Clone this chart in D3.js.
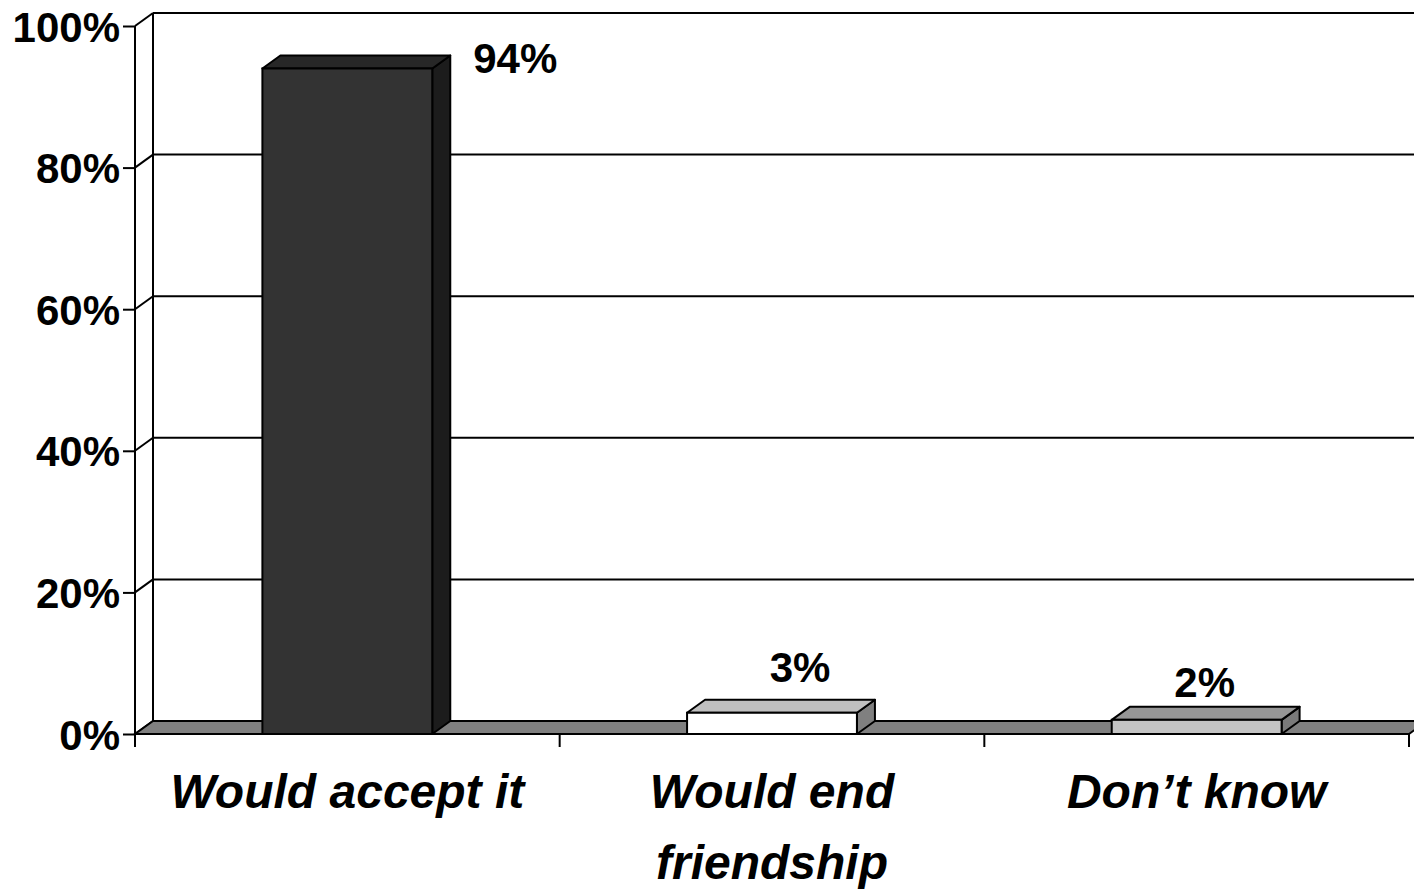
<!DOCTYPE html>
<html>
<head>
<meta charset="utf-8">
<script src="https://cdn.jsdelivr.net/npm/d3@7"></script>
<style>
  html, body { margin: 0; padding: 0; background: #fff; }
  svg { display: block; }
  text { font-family: "Liberation Sans", Arial, sans-serif; font-weight: bold; fill: #000; }
</style>
</head>
<body>
<svg id="chart" width="1414" height="892"></svg>
<script>
// ---- data ----
const categories = ["Would accept it", "Would end friendship", "Don\u2019t know"];
const values = [94, 3, 2];
const valueLabels = ["94%", "3%", "2%"];
const yTicks = [0, 20, 40, 60, 80, 100];
const yTickLabels = ["0%", "20%", "40%", "60%", "80%", "100%"];

// ---- styles ----
const barColors = [
  { front: "#333333", top: "#272727", side: "#1c1c1c" },
  { front: "#ffffff", top: "#c0c0c0", side: "#808080" },
  { front: "#c4c4c4", top: "#969696", side: "#7a7a7a" }
];
const floorColor = "#808080";
const LW = 2;

const svg = d3.select("#chart");
const W = 1414, H = 892;

// geometry
const left = 135, right = 1409;
const yFront0 = 734, yFront100 = 26;
const DX = 18, DY = -13;

const x = d3.scaleBand().domain(categories).range([left, right]).paddingInner(0).paddingOuter(0);
const yF = d3.scaleLinear().domain([0, 100]).range([yFront0, yFront100]);
const yB = v => yF(v) + DY;

const g = svg.append("g");

// back wall gridlines
g.selectAll("line.grid").data(yTicks).enter().append("line")
  .attr("x1", left + DX).attr("x2", W + 20)
  .attr("y1", d => yB(d)).attr("y2", d => yB(d))
  .attr("stroke", "#000").attr("stroke-width", LW);

// left side wall diagonals
g.selectAll("line.diag").data(yTicks).enter().append("line")
  .attr("x1", left).attr("x2", left + DX)
  .attr("y1", d => yF(d)).attr("y2", d => yB(d))
  .attr("stroke", "#000").attr("stroke-width", LW);

// back wall left vertical
g.append("line")
  .attr("x1", left + DX).attr("x2", left + DX)
  .attr("y1", yB(100)).attr("y2", yB(0))
  .attr("stroke", "#000").attr("stroke-width", LW);

// floor
g.append("path")
  .attr("d", `M${left},${yF(0)} L${right},${yF(0)} L${right + DX},${yB(0)} L${left + DX},${yB(0)} Z`)
  .attr("fill", floorColor).attr("stroke", "#000").attr("stroke-width", LW).attr("stroke-linejoin", "miter");

// bars
const bw = x.bandwidth() * 0.4;
const bars = g.selectAll("g.bar").data(categories).enter().append("g");
bars.each(function (c, i) {
  const gb = d3.select(this);
  const x0 = x(c) + (x.bandwidth() - bw) / 2, x1 = x0 + bw;
  const yt = yF(values[i]), yb = yF(0);
  const col = barColors[i];
  // side
  gb.append("path")
    .attr("d", `M${x1},${yb} L${x1 + DX},${yb + DY} L${x1 + DX},${yt + DY} L${x1},${yt} Z`)
    .attr("fill", col.side).attr("stroke", "#000").attr("stroke-width", LW).attr("stroke-linejoin", "round");
  // top
  gb.append("path")
    .attr("d", `M${x0},${yt} L${x0 + DX},${yt + DY} L${x1 + DX},${yt + DY} L${x1},${yt} Z`)
    .attr("fill", col.top).attr("stroke", "#000").attr("stroke-width", LW).attr("stroke-linejoin", "round");
  // front
  gb.append("rect")
    .attr("x", x0).attr("y", yt).attr("width", bw).attr("height", yb - yt)
    .attr("fill", col.front).attr("stroke", "#000").attr("stroke-width", LW);
});

// value labels (Excel-like placement)
const labelPos = (c, i) => {
  const cx = x(c) + x.bandwidth() / 2;
  if (i === 0) return [cx + bw / 2 + DX + 65, yF(values[i]) + 5];
  if (i === 1) return [cx + 28, yF(values[i]) - 31];
  return [cx + 8, yF(values[i]) - 23];
};
g.selectAll("text.val").data(categories).enter().append("text")
  .attr("x", (c, i) => labelPos(c, i)[0])
  .attr("y", (c, i) => labelPos(c, i)[1])
  .attr("text-anchor", "middle")
  .attr("font-size", 42)
  .text((c, i) => valueLabels[i]);

// front y axis
const yAxis = d3.axisLeft(yF).tickValues(yTicks).tickSize(12).tickSizeOuter(0).tickPadding(3)
  .tickFormat((d, i) => yTickLabels[i]);
const ya = g.append("g").attr("transform", `translate(${left},0)`).call(yAxis);
ya.select(".domain").remove();
ya.selectAll("line").attr("stroke", "#000").attr("stroke-width", LW);
ya.selectAll("text").attr("font-size", 42).attr("font-family", "'Liberation Sans', Arial, sans-serif")
  .attr("font-weight", "bold").attr("fill", "#000").attr("dy", "0.36em").attr("x", -15);

g.append("line")
  .attr("x1", left).attr("x2", left)
  .attr("y1", yF(100)).attr("y2", yF(0) + 13)
  .attr("stroke", "#000").attr("stroke-width", LW);

// category ticks
const bounds = categories.map(c => x(c) + x.bandwidth());
g.selectAll("line.xt").data(bounds).enter().append("line")
  .attr("x1", d => d).attr("x2", d => d)
  .attr("y1", yF(0)).attr("y2", yF(0) + 13)
  .attr("stroke", "#000").attr("stroke-width", LW);

// category labels (wrapped)
function wrapWords(text, maxW, size) {
  const tmp = svg.append("text").attr("font-size", size).attr("font-style", "italic");
  const words = text.split(" ");
  const lines = [];
  let line = [];
  words.forEach(w => {
    const trial = line.concat([w]).join(" ");
    tmp.text(trial);
    if (tmp.node().getComputedTextLength() > maxW && line.length) {
      lines.push(line.join(" "));
      line = [w];
    } else line.push(w);
  });
  if (line.length) lines.push(line.join(" "));
  tmp.remove();
  return lines;
}
categories.forEach(c => {
  const lines = wrapWords(c, x.bandwidth() - 20, 48);
  const t = g.append("text")
    .attr("x", x(c) + x.bandwidth() / 2)
    .attr("y", 808)
    .attr("text-anchor", "middle")
    .attr("font-size", 48)
    .attr("font-style", "italic");
  lines.forEach((l, k) => {
    t.append("tspan").attr("x", x(c) + x.bandwidth() / 2).attr("dy", k === 0 ? 0 : 71).text(l);
  });
});
</script>
</body>
</html>
